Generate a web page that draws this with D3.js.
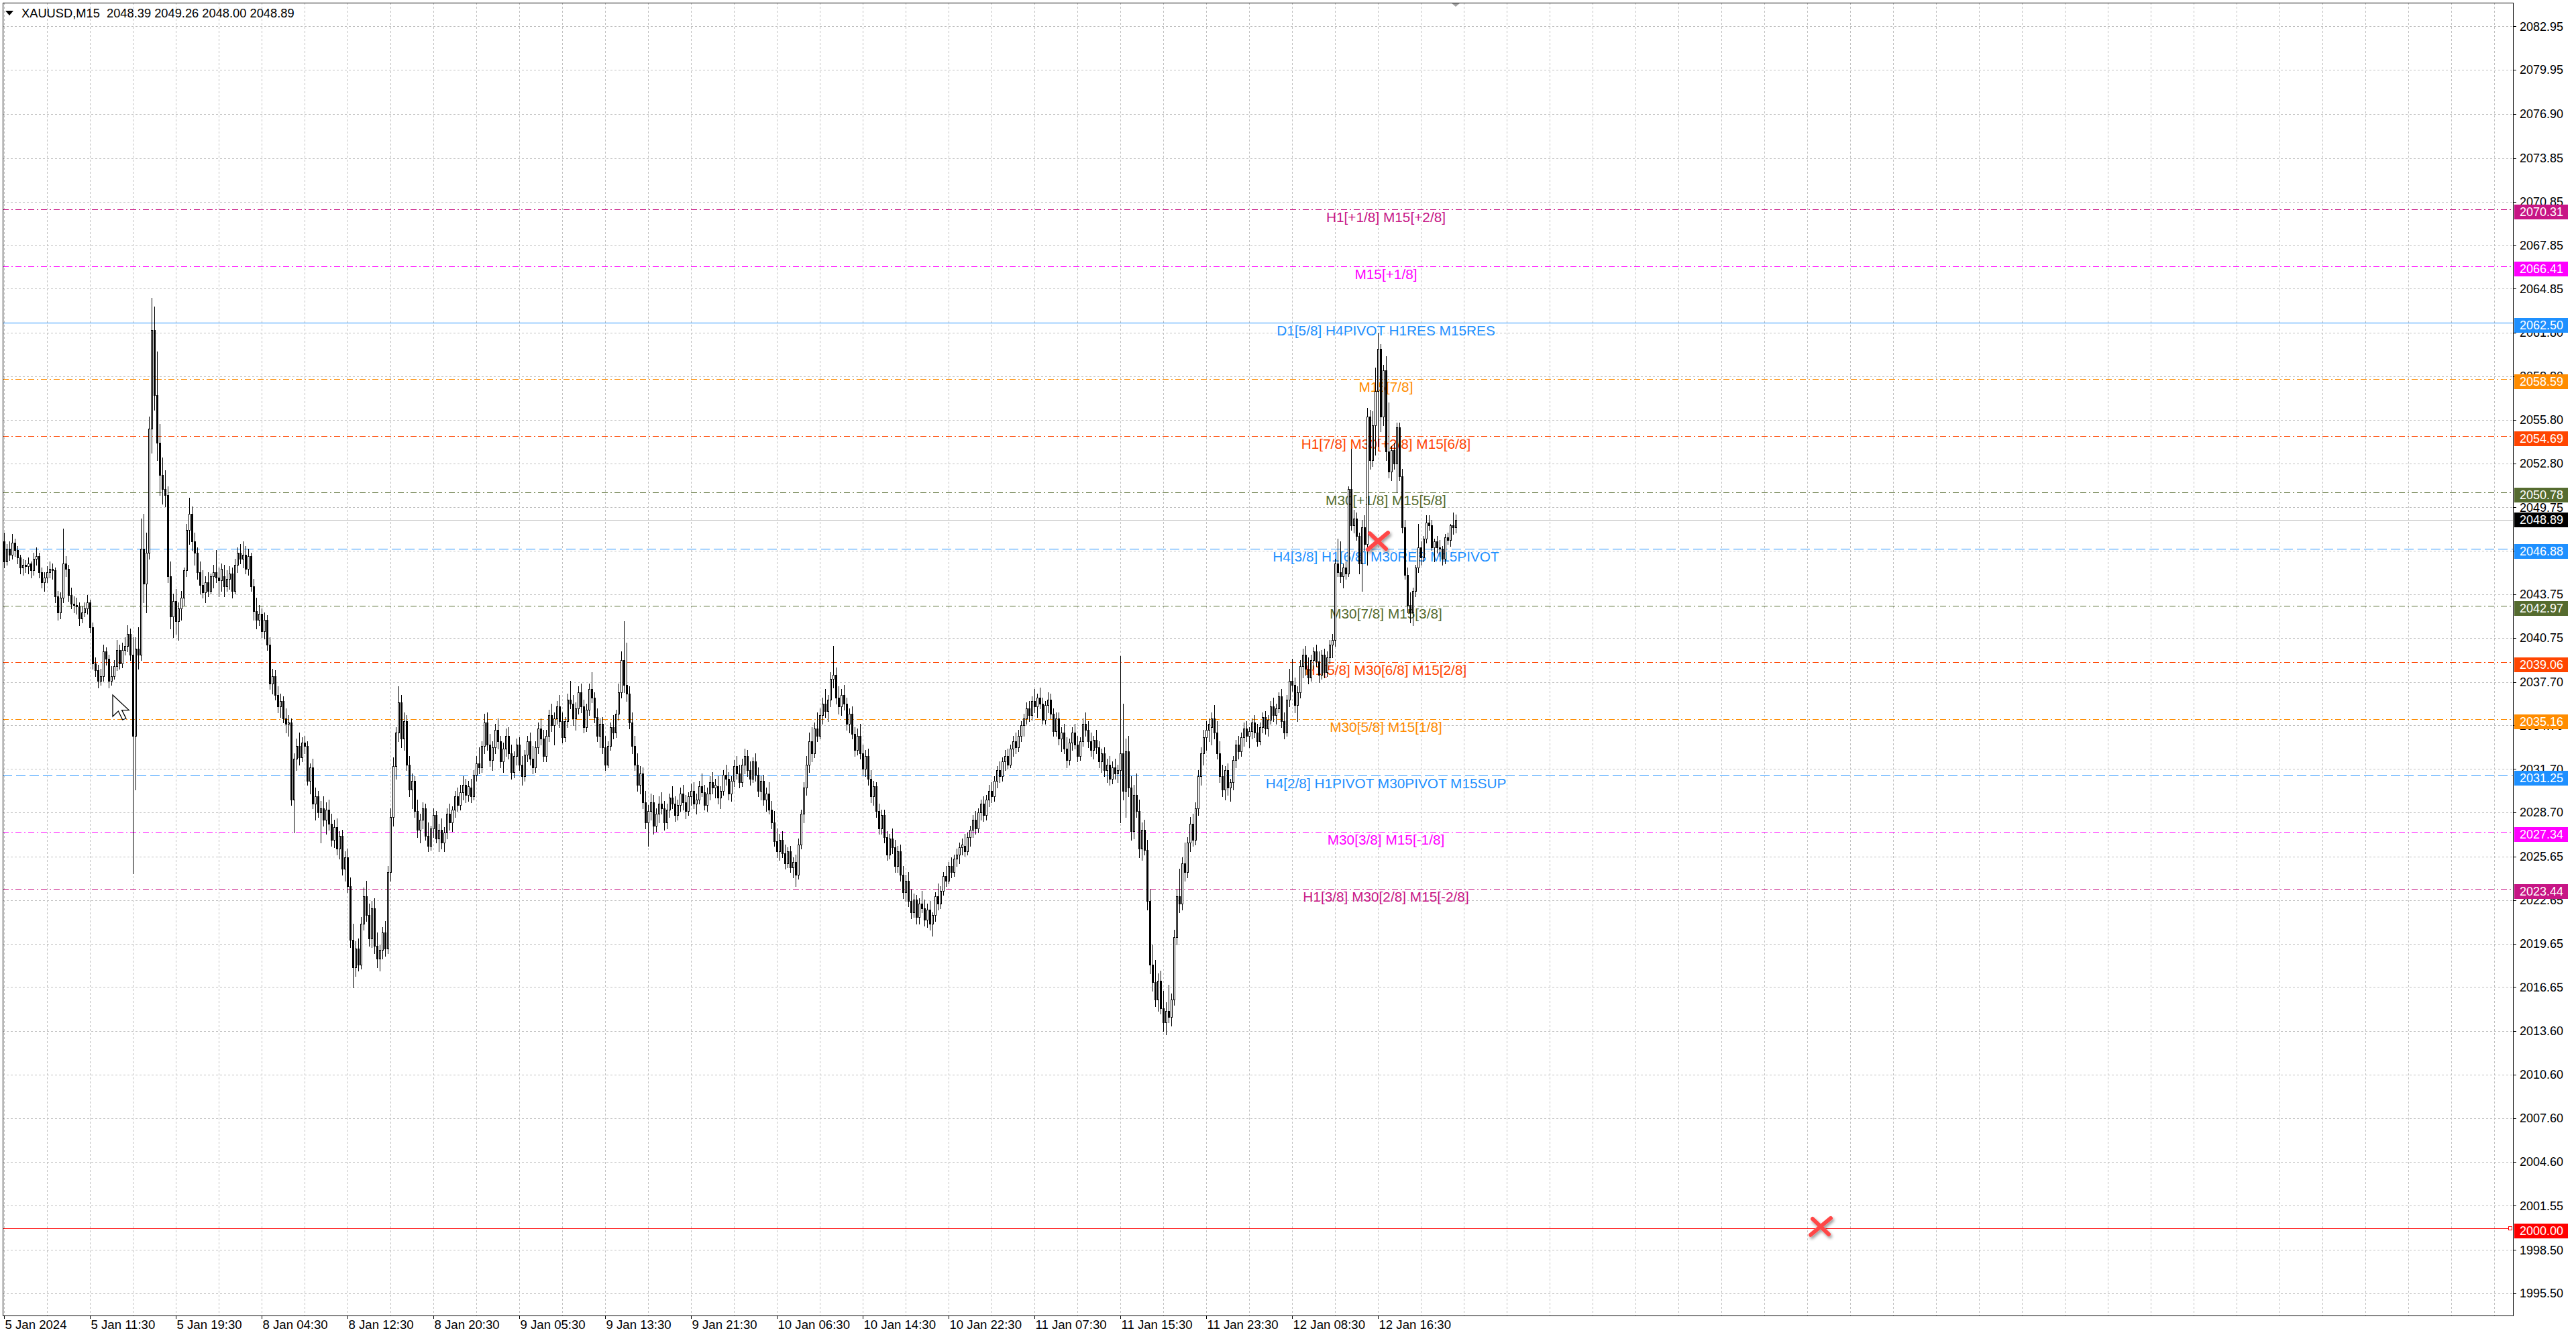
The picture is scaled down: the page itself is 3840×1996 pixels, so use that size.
<!DOCTYPE html>
<html>
<head>
<meta charset="utf-8">
<title>XAUUSD,M15</title>
<script src="https://cdn.jsdelivr.net/npm/d3@7/dist/d3.min.js"></script>
<style>
html,body{margin:0;padding:0;background:#ffffff;overflow:hidden;}
svg{display:block;}
</style>
</head>
<body>
<svg id="chart" width="3840" height="1996"></svg>
<script>
// ================= DATA =================
const symbolTitle = "XAUUSD,M15";
const lastBarOHLC = [2048.39, 2049.26, 2048.00, 2048.89];

const opens = [
2047.4,2046.0,2046.9,2046.5,2047.3,2046.8,2046.3,2045.6,2045.8,2045.7,
2045.9,2045.4,2046.2,2046.4,2045.3,2044.6,2044.9,2045.3,2045.5,2045.4,
2043.6,2042.5,2043.5,2045.9,2045.5,2043.7,2043.1,2043.0,2042.9,2042.1,
2042.5,2042.8,2043.2,2041.5,2039.0,2038.5,2037.8,2038.1,2039.8,2039.3,
2037.8,2038.1,2038.8,2039.9,2039.0,2039.9,2040.2,2041.0,2039.6,2034.0,
2040.0,2039.6,2046.9,2044.5,2046.6,2055.2,2062.0,2057.5,2054.2,2052.0,
2051.0,2050.6,2045.0,2042.2,2043.3,2041.9,2042.8,2043.5,2045.4,2048.2,
2049.3,2047.4,2046.6,2045.3,2044.4,2043.9,2044.6,2044.0,2045.0,2045.3,
2044.9,2044.7,2045.0,2044.3,2044.8,2045.2,2044.0,2045.8,2046.6,2046.2,
2046.5,2045.5,2046.4,2044.3,2042.6,2042.0,2042.4,2041.2,2042.0,2040.3,
2037.6,2038.1,2036.8,2036.0,2036.4,2035.2,2034.8,2034.9,2029.6,2032.4,
2033.3,2032.5,2033.5,2033.3,2030.9,2031.8,2029.3,2029.8,2028.7,2029.0,
2028.2,2028.9,2027.9,2026.8,2027.7,2026.2,2027.1,2024.8,2025.6,2023.6,
2019.9,2018.0,2019.3,2018.2,2021.0,2022.9,2021.6,2020.0,2022.1,2019.5,
2018.6,2019.2,2020.4,2019.3,2024.6,2028.4,2031.9,2034.2,2036.3,2033.8,
2035.0,2032.0,2030.3,2030.9,2028.8,2027.5,2028.2,2029.0,2027.1,2026.4,
2027.6,2028.5,2026.9,2027.5,2026.6,2027.3,2028.6,2028.0,2028.9,2029.8,
2029.2,2030.1,2030.6,2029.9,2030.4,2029.8,2031.3,2032.1,2031.8,2033.3,
2034.9,2033.4,2032.3,2033.2,2034.4,2033.6,2032.2,2033.1,2034.0,2032.8,
2031.5,2032.6,2033.4,2032.0,2031.2,2032.7,2033.6,2032.4,2031.8,2033.2,
2034.5,2033.8,2032.6,2034.0,2035.4,2034.7,2035.2,2036.0,2035.0,2033.9,
2035.0,2036.5,2036.2,2035.2,2035.9,2037.0,2036.0,2034.6,2035.8,2037.2,
2036.6,2035.3,2034.0,2034.8,2033.2,2032.0,2033.3,2034.6,2034.2,2035.5,
2037.0,2039.2,2037.5,2036.9,2034.9,2033.3,2032.0,2030.6,2031.4,2029.4,
2028.0,2028.8,2029.4,2027.8,2028.6,2029.3,2029.0,2028.0,2028.9,2029.7,
2029.3,2028.5,2029.2,2030.0,2029.4,2028.8,2029.8,2030.2,2029.3,2029.6,
2030.5,2030.1,2029.2,2030.0,2030.8,2030.4,2030.5,2029.7,2030.2,2031.3,
2031.0,2030.0,2030.9,2031.9,2031.4,2030.8,2032.0,2032.6,2031.6,2031.0,
2032.2,2031.3,2030.2,2030.9,2029.6,2030.0,2028.9,2028.0,2026.7,2026.0,
2026.8,2025.9,2025.2,2026.0,2024.9,2025.3,2024.4,2026.5,2028.6,2030.4,
2032.0,2033.6,2032.8,2034.5,2034.0,2035.4,2036.2,2035.7,2036.5,2037.9,
2038.2,2036.6,2036.0,2036.8,2036.2,2034.8,2035.5,2034.1,2033.0,2034.0,
2032.8,2031.7,2032.6,2031.0,2029.8,2030.5,2028.8,2027.6,2028.5,2027.0,
2025.8,2026.9,2026.3,2025.0,2026.0,2024.4,2023.2,2024.0,2022.6,2021.8,
2022.7,2021.5,2022.4,2022.1,2021.3,2022.0,2021.0,2021.6,2022.9,2022.4,
2023.3,2024.3,2024.0,2025.0,2024.6,2025.5,2025.8,2026.3,2026.4,2026.0,
2027.0,2027.5,2028.2,2027.6,2028.7,2029.3,2028.5,2029.6,2030.2,2029.8,
2030.9,2031.6,2031.2,2032.2,2032.6,2032.0,2033.1,2033.6,2033.2,2034.0,
2034.7,2035.2,2035.9,2035.4,2036.4,2036.0,2036.6,2036.2,2035.1,2036.1,
2036.5,2035.5,2034.3,2035.2,2033.8,2034.2,2033.1,2032.3,2033.5,2034.2,
2033.4,2032.6,2033.6,2034.8,2034.4,2033.6,2033.0,2033.7,2033.2,2032.2,
2032.8,2031.6,2032.0,2031.0,2031.8,2031.4,2031.6,2032.8,2030.2,2032.9,
2030.4,2027.4,2029.9,2028.8,2026.2,2027.5,2026.1,2022.6,2018.2,2017.0,
2015.8,2017.1,2015.2,2014.2,2015.0,2014.6,2015.8,2020.1,2022.9,2022.4,
2025.2,2024.6,2026.6,2027.9,2026.8,2029.0,2031.2,2032.8,2033.9,2034.4,
2034.6,2035.2,2034.2,2032.8,2031.2,2030.3,2031.6,2030.4,2030.8,2032.3,
2033.4,2032.9,2033.9,2034.5,2034.0,2034.3,2034.9,2034.2,2033.6,2034.6,
2035.3,2034.5,2035.1,2036.0,2035.4,2035.9,2036.7,2035.0,2034.2,2036.5,
2037.8,2037.5,2036.1,2037.0,2038.8,2039.6,2038.6,2038.0,2039.2,2039.8,
2039.1,2038.2,2039.6,2038.4,2039.4,2040.3,2040.6,2045.9,2045.3,2045.0,
2045.6,2045.2,2051.0,2048.5,2049.0,2047.8,2045.9,2048.4,2047.2,2056.0,
2053.0,2055.4,2057.8,2060.7,2056.0,2059.2,2053.6,2052.2,2053.7,2052.8,
2055.3,2051.9,2048.4,2045.1,2043.0,2042.5,2044.0,2045.6,2047.0,2046.3,
2047.6,2048.7,2048.5,2047.0,2047.4,2047.0,2046.9,2046.2,2047.7,2047.5,
2048.5,2048.39
];
const highs = [
2048.0,2047.2,2047.4,2047.9,2047.6,2047.1,2046.5,2046.2,2046.1,2046.3,
2046.0,2046.6,2047.0,2046.6,2045.6,2045.3,2045.7,2046.0,2045.9,2045.6,
2044.0,2043.9,2048.3,2046.4,2045.8,2044.2,2043.6,2043.5,2043.2,2042.9,
2043.2,2043.7,2043.4,2041.8,2039.4,2038.9,2038.6,2040.3,2040.1,2039.6,
2038.8,2039.2,2040.6,2040.3,2040.4,2040.8,2041.6,2041.4,2040.8,2040.8,
2041.5,2049.0,2049.3,2048.0,2056.0,2064.2,2063.6,2060.5,2055.5,2053.2,
2052.3,2051.2,2046.0,2043.8,2044.1,2043.2,2044.0,2045.6,2048.6,2050.4,
2049.8,2048.0,2047.0,2046.0,2045.4,2045.0,2045.3,2045.2,2045.8,2046.8,
2045.6,2045.9,2045.8,2045.4,2045.7,2045.6,2046.2,2047.0,2047.2,2047.4,
2047.1,2046.9,2046.6,2044.8,2043.5,2043.0,2042.8,2042.5,2042.3,2040.8,
2038.6,2038.5,2037.4,2036.9,2036.7,2035.9,2035.4,2035.2,2032.8,2033.8,
2034.2,2033.9,2034.0,2033.6,2032.1,2032.4,2030.4,2030.2,2029.5,2029.8,
2029.4,2029.6,2028.6,2028.2,2028.3,2027.4,2027.5,2026.0,2026.2,2024.2,
2021.0,2019.8,2020.0,2021.5,2023.5,2024.0,2022.4,2022.6,2022.8,2020.4,
2019.6,2020.8,2021.2,2025.0,2029.0,2032.5,2034.6,2037.4,2036.8,2035.6,
2035.4,2032.6,2031.4,2031.2,2029.6,2028.6,2029.4,2029.3,2028.0,2027.8,
2029.0,2028.8,2027.9,2028.3,2027.7,2029.0,2029.3,2029.1,2030.2,2030.4,
2030.6,2031.2,2031.0,2030.9,2031.0,2031.6,2032.6,2033.2,2033.6,2035.5,
2035.6,2034.1,2033.6,2034.8,2035.2,2034.0,2033.5,2034.5,2034.6,2033.4,
2032.9,2033.8,2033.9,2032.6,2033.0,2034.0,2034.2,2033.3,2033.6,2034.9,
2035.2,2034.4,2034.4,2035.8,2036.2,2035.6,2036.4,2036.8,2035.6,2035.3,
2036.9,2037.8,2036.8,2036.3,2037.4,2037.6,2036.5,2036.2,2037.6,2038.4,
2037.0,2035.9,2035.2,2035.3,2034.0,2033.6,2034.9,2035.4,2035.8,2037.6,
2039.8,2041.9,2040.4,2037.4,2035.6,2034.0,2032.8,2031.9,2031.8,2030.2,
2029.2,2030.0,2029.9,2029.0,2029.8,2030.1,2029.5,2029.3,2030.0,2030.5,
2029.8,2029.6,2030.4,2030.6,2029.9,2030.1,2030.7,2030.8,2030.0,2030.9,
2031.4,2030.6,2030.4,2031.2,2031.5,2031.0,2031.2,2030.5,2031.6,2032.0,
2031.5,2031.2,2032.3,2032.6,2032.0,2032.4,2033.1,2033.0,2032.2,2032.5,
2032.8,2031.8,2031.2,2031.3,2030.4,2030.8,2029.5,2028.8,2027.6,2027.2,
2027.4,2026.5,2026.3,2026.4,2025.6,2025.8,2026.9,2028.9,2030.8,2032.6,
2034.2,2034.6,2034.9,2035.6,2035.9,2036.6,2037.2,2036.8,2038.4,2040.2,
2038.7,2037.4,2037.2,2037.5,2036.6,2035.9,2036.0,2034.6,2034.5,2034.8,
2033.4,2033.0,2033.1,2031.6,2030.9,2030.8,2029.3,2028.9,2028.9,2027.4,
2027.2,2027.6,2026.8,2026.4,2026.5,2025.0,2024.4,2024.6,2023.4,2023.1,
2023.0,2022.8,2023.3,2022.7,2022.4,2022.6,2021.8,2023.2,2023.8,2023.6,
2024.6,2025.0,2025.3,2025.6,2025.8,2026.2,2026.6,2026.9,2027.2,2027.3,
2027.8,2028.5,2028.8,2029.0,2029.6,2029.8,2029.9,2030.6,2030.8,2031.2,
2031.9,2032.2,2032.5,2033.0,2033.1,2033.4,2034.0,2034.2,2034.4,2035.0,
2035.5,2036.3,2036.4,2036.7,2037.2,2036.9,2037.3,2036.6,2036.4,2037.0,
2036.9,2035.9,2035.6,2035.6,2034.6,2034.8,2033.9,2033.8,2034.6,2034.8,
2034.0,2033.9,2035.2,2035.6,2035.0,2034.2,2034.0,2034.4,2033.6,2033.1,
2033.2,2032.4,2032.6,2032.2,2032.4,2032.0,2039.5,2036.2,2033.8,2034.0,
2031.2,2030.6,2031.4,2029.6,2028.0,2028.2,2026.8,2023.4,2019.6,2018.5,
2017.6,2017.8,2016.4,2015.6,2016.8,2016.2,2020.6,2023.4,2024.8,2025.6,
2026.6,2027.0,2028.4,2028.6,2029.4,2031.6,2033.2,2034.4,2035.0,2035.2,
2035.6,2036.1,2035.0,2033.6,2032.0,2031.9,2032.1,2031.0,2032.6,2033.7,
2034.0,2034.2,2034.9,2035.0,2034.6,2035.2,2035.4,2034.8,2034.9,2035.6,
2035.7,2035.4,2036.4,2036.6,2036.2,2037.0,2037.2,2035.6,2036.8,2038.6,
2039.3,2038.0,2037.4,2039.2,2040.0,2040.2,2039.4,2039.6,2040.1,2040.3,
2039.8,2039.9,2040.0,2039.8,2040.6,2041.0,2046.2,2047.6,2047.4,2045.9,
2046.0,2051.2,2053.8,2049.6,2049.4,2048.0,2048.9,2049.2,2056.6,2056.5,
2056.4,2059.4,2061.8,2061.0,2059.6,2060.2,2057.0,2054.0,2054.2,2055.6,
2055.6,2052.4,2048.9,2045.6,2043.9,2044.2,2045.8,2048.6,2047.4,2047.8,
2049.2,2049.2,2048.9,2047.6,2047.8,2047.5,2047.1,2047.9,2048.0,2048.6,
2049.4,2049.26
];
const lows = [
2045.6,2045.8,2046.1,2046.2,2046.4,2045.9,2045.2,2045.1,2045.3,2045.2,
2044.9,2045.1,2045.8,2044.9,2044.2,2044.0,2044.6,2044.9,2044.8,2043.2,
2042.0,2042.1,2043.2,2045.0,2043.3,2042.8,2042.5,2042.4,2041.6,2041.8,
2042.2,2042.4,2041.1,2038.6,2038.1,2037.3,2037.5,2037.8,2038.9,2037.3,
2037.5,2037.9,2038.5,2038.6,2038.7,2039.6,2039.8,2039.2,2024.5,2030.3,
2038.6,2039.2,2043.2,2042.5,2046.2,2053.5,2056.5,2053.0,2050.6,2050.0,
2049.8,2044.6,2041.4,2040.8,2041.0,2040.6,2042.0,2043.0,2045.0,2047.2,
2046.8,2045.8,2044.8,2043.8,2043.5,2043.2,2043.6,2043.8,2044.2,2044.6,
2043.6,2044.0,2043.6,2044.0,2044.1,2043.5,2043.8,2045.3,2045.9,2045.6,
2045.2,2045.1,2044.0,2042.0,2041.4,2041.6,2040.8,2040.7,2039.9,2037.2,
2036.9,2036.5,2035.6,2035.3,2034.9,2034.2,2034.0,2029.2,2027.3,2031.6,
2032.0,2032.2,2032.8,2030.6,2030.0,2029.0,2028.2,2028.4,2026.6,2027.8,
2027.2,2027.5,2026.4,2026.3,2025.8,2025.5,2024.4,2024.0,2023.2,2019.4,
2016.6,2017.4,2017.8,2017.9,2020.6,2021.2,2019.5,2019.4,2019.0,2018.0,
2017.8,2018.6,2018.8,2019.0,2024.0,2027.8,2031.0,2033.6,2033.2,2033.0,
2031.6,2029.8,2029.0,2028.4,2027.0,2026.6,2027.6,2026.8,2026.0,2026.1,
2027.0,2026.6,2026.0,2026.2,2026.0,2026.9,2027.5,2027.4,2028.4,2028.8,
2028.9,2029.6,2029.4,2029.5,2029.4,2029.6,2030.9,2031.4,2031.5,2032.8,
2033.0,2031.9,2031.6,2032.8,2033.1,2031.8,2031.5,2032.6,2032.4,2031.0,
2031.1,2032.0,2031.6,2030.6,2030.9,2032.2,2032.0,2031.4,2031.5,2032.8,
2033.4,2032.2,2032.2,2033.6,2034.3,2033.4,2034.8,2034.6,2033.5,2033.6,
2034.6,2035.9,2034.7,2034.4,2035.5,2035.6,2034.2,2034.3,2035.4,2036.3,
2034.9,2033.6,2033.2,2032.8,2031.6,2031.8,2033.0,2033.8,2033.9,2035.1,
2036.6,2037.0,2036.4,2034.5,2032.8,2031.6,2030.2,2030.0,2029.0,2027.6,
2026.4,2028.2,2027.2,2027.4,2028.0,2028.6,2027.5,2027.6,2028.4,2029.0,
2028.1,2028.2,2028.8,2028.9,2028.3,2028.5,2029.2,2029.0,2028.6,2029.3,
2029.8,2028.9,2028.8,2029.6,2030.0,2029.7,2029.3,2029.0,2029.9,2030.6,
2029.6,2029.5,2030.5,2031.0,2030.4,2030.5,2031.4,2031.2,2030.6,2030.8,
2030.9,2029.8,2029.6,2029.2,2028.8,2028.6,2027.6,2026.4,2025.6,2025.4,
2025.6,2024.8,2024.9,2024.6,2024.2,2023.6,2024.1,2026.2,2028.0,2029.9,
2031.5,2032.2,2032.5,2033.6,2033.8,2034.8,2035.3,2035.0,2036.0,2037.3,
2036.2,2035.5,2035.4,2035.8,2034.4,2034.2,2033.8,2032.6,2032.7,2032.4,
2031.3,2031.2,2030.6,2029.4,2029.2,2028.4,2027.2,2027.2,2026.6,2025.4,
2025.5,2025.9,2024.6,2024.6,2024.0,2022.8,2022.6,2022.2,2021.4,2021.5,
2021.0,2021.0,2021.8,2020.9,2020.8,2020.6,2020.2,2021.2,2022.0,2022.1,
2023.0,2023.6,2023.8,2024.2,2024.3,2025.0,2025.2,2025.8,2025.7,2025.8,
2026.4,2027.0,2027.2,2027.3,2028.2,2028.1,2028.2,2029.1,2029.4,2029.5,
2030.4,2030.8,2030.9,2031.6,2031.7,2031.8,2032.6,2032.8,2032.9,2033.6,
2034.0,2034.8,2035.0,2035.1,2035.6,2035.3,2035.9,2034.8,2034.8,2035.6,
2035.2,2034.0,2034.0,2033.4,2032.9,2032.8,2031.8,2032.0,2033.0,2033.1,
2032.2,2032.3,2033.3,2034.0,2033.2,2032.6,2032.4,2032.8,2031.8,2031.5,
2031.2,2030.8,2030.6,2030.7,2031.0,2030.8,2028.0,2029.6,2028.4,2029.8,
2026.8,2026.9,2028.4,2025.6,2025.4,2025.8,2022.0,2017.6,2016.4,2015.3,
2015.0,2014.8,2013.6,2013.4,2014.2,2014.0,2015.4,2019.6,2021.8,2022.0,
2024.0,2024.2,2026.0,2026.4,2026.5,2028.5,2030.6,2032.0,2033.0,2033.6,
2033.4,2033.8,2032.4,2030.8,2029.8,2029.6,2029.9,2029.5,2030.3,2031.8,
2032.4,2032.6,2033.3,2033.6,2033.2,2033.8,2033.9,2033.3,2033.4,2034.2,
2034.1,2034.0,2034.8,2035.0,2034.8,2035.6,2034.6,2033.8,2034.0,2036.0,
2037.1,2035.6,2035.0,2036.6,2038.0,2038.2,2037.6,2037.8,2038.6,2038.8,
2037.7,2037.9,2038.0,2038.1,2039.0,2039.4,2040.2,2045.0,2044.6,2044.2,
2044.8,2045.0,2048.2,2048.0,2047.5,2045.2,2044.0,2046.8,2045.8,2052.4,
2052.6,2053.4,2054.0,2055.0,2055.4,2053.0,2051.8,2051.6,2052.4,2050.8,
2051.6,2048.0,2044.8,2042.5,2041.8,2041.6,2043.6,2045.3,2045.8,2046.0,
2047.3,2048.2,2046.8,2046.0,2046.6,2046.4,2045.8,2045.9,2047.2,2047.1,
2047.9,2048.00
];
const closes = [
2046.0,2046.9,2046.5,2047.3,2046.8,2046.3,2045.6,2045.8,2045.7,2045.9,
2045.4,2046.2,2046.4,2045.3,2044.6,2044.9,2045.3,2045.5,2045.4,2043.6,
2042.5,2043.5,2045.9,2045.5,2043.7,2043.1,2043.0,2042.9,2042.1,2042.5,
2042.8,2043.2,2041.5,2039.0,2038.5,2037.8,2038.1,2039.8,2039.3,2037.8,
2038.1,2038.8,2039.9,2039.0,2039.9,2040.2,2041.0,2039.6,2034.0,2040.0,
2039.6,2046.9,2044.5,2046.6,2055.2,2062.0,2057.5,2054.2,2052.0,2051.0,
2050.6,2045.0,2042.2,2043.3,2041.9,2042.8,2043.5,2045.4,2048.2,2049.3,
2047.4,2046.6,2045.3,2044.4,2043.9,2044.6,2044.0,2045.0,2045.3,2044.9,
2044.7,2045.5,2044.3,2044.8,2045.2,2044.0,2045.8,2046.6,2046.2,2046.5,
2045.5,2046.4,2044.3,2042.6,2042.0,2042.4,2041.2,2042.0,2040.3,2037.6,
2038.1,2036.8,2036.0,2036.4,2035.2,2034.8,2034.9,2029.6,2032.4,2033.3,
2032.5,2033.5,2033.3,2030.9,2031.8,2029.3,2029.8,2028.7,2029.0,2028.2,
2028.9,2027.9,2026.8,2027.7,2026.2,2027.1,2024.8,2025.6,2023.6,2019.9,
2018.0,2019.3,2018.2,2021.0,2022.9,2021.6,2020.0,2022.1,2019.5,2018.6,
2019.2,2020.4,2019.3,2024.6,2028.4,2031.9,2034.2,2036.3,2033.8,2035.0,
2032.0,2030.3,2030.9,2028.8,2027.5,2028.2,2029.0,2027.1,2026.4,2027.6,
2028.5,2026.9,2027.5,2026.6,2027.3,2028.6,2028.0,2028.9,2029.8,2029.2,
2030.1,2030.6,2029.9,2030.5,2029.8,2031.3,2032.1,2031.8,2033.3,2034.9,
2033.4,2032.3,2033.2,2034.4,2033.6,2032.2,2033.1,2034.0,2032.8,2031.5,
2032.6,2033.4,2032.0,2031.2,2032.7,2033.6,2032.4,2031.8,2033.2,2034.5,
2033.8,2032.6,2034.0,2035.4,2034.7,2035.2,2036.0,2035.0,2033.9,2035.0,
2036.5,2036.2,2035.2,2035.9,2037.0,2036.0,2034.6,2035.8,2037.2,2036.6,
2035.3,2034.0,2034.8,2033.2,2032.0,2033.3,2034.6,2034.2,2035.5,2037.0,
2039.2,2037.5,2036.9,2034.9,2033.3,2032.0,2030.6,2031.4,2029.4,2028.0,
2028.8,2029.4,2027.8,2028.6,2029.3,2029.0,2028.0,2028.9,2029.7,2029.3,
2028.5,2029.2,2030.0,2029.4,2028.8,2029.8,2030.2,2029.3,2029.6,2030.5,
2030.1,2029.2,2030.0,2030.8,2030.4,2030.6,2029.7,2030.2,2031.3,2031.0,
2030.0,2030.9,2031.9,2031.4,2030.8,2032.0,2032.6,2031.6,2031.0,2032.2,
2031.3,2030.2,2030.9,2029.6,2030.0,2028.9,2028.0,2026.7,2026.0,2026.8,
2025.9,2025.2,2026.0,2024.9,2025.3,2024.4,2026.5,2028.6,2030.4,2032.0,
2033.6,2032.8,2034.5,2034.0,2035.4,2036.2,2035.7,2036.5,2037.9,2038.2,
2036.6,2036.0,2036.8,2036.2,2034.8,2035.5,2034.1,2033.0,2034.0,2032.8,
2031.7,2032.6,2031.0,2029.8,2030.5,2028.8,2027.6,2028.5,2027.0,2025.8,
2026.9,2026.3,2025.0,2026.0,2024.4,2023.2,2024.0,2022.6,2021.8,2022.7,
2021.5,2022.4,2022.1,2021.3,2022.0,2021.0,2021.6,2022.9,2022.4,2023.3,
2024.3,2024.0,2025.0,2024.6,2025.5,2025.8,2026.3,2026.5,2026.0,2027.0,
2027.5,2028.2,2027.6,2028.7,2029.3,2028.5,2029.6,2030.2,2029.8,2030.9,
2031.6,2031.2,2032.2,2032.6,2032.0,2033.1,2033.6,2033.2,2034.0,2034.7,
2035.2,2035.9,2035.4,2036.4,2036.0,2036.6,2036.2,2035.1,2036.1,2036.5,
2035.5,2034.3,2035.2,2033.8,2034.2,2033.1,2032.3,2033.5,2034.2,2033.4,
2032.6,2033.6,2034.8,2034.4,2033.6,2033.0,2033.7,2033.2,2032.2,2032.8,
2031.6,2032.0,2031.0,2031.8,2031.4,2031.6,2032.8,2030.2,2032.9,2030.4,
2027.4,2029.9,2028.8,2026.2,2027.5,2026.1,2022.6,2018.2,2017.0,2015.8,
2017.1,2015.2,2014.2,2015.0,2014.6,2015.8,2020.1,2022.9,2022.4,2025.2,
2024.6,2026.6,2027.9,2026.8,2029.0,2031.2,2032.8,2033.9,2034.4,2034.8,
2035.2,2034.2,2032.8,2031.2,2030.3,2031.6,2030.4,2030.8,2032.3,2033.4,
2032.9,2033.9,2034.5,2034.0,2034.3,2034.9,2034.2,2033.6,2034.6,2035.3,
2034.5,2035.1,2036.0,2035.4,2035.9,2036.7,2035.0,2034.2,2036.5,2037.8,
2037.5,2036.1,2037.0,2038.8,2039.6,2038.6,2038.0,2039.2,2039.8,2039.1,
2038.2,2039.6,2038.4,2039.4,2040.3,2040.6,2045.9,2045.3,2045.0,2045.6,
2045.2,2051.0,2048.5,2049.0,2047.8,2045.9,2048.4,2047.2,2056.0,2053.0,
2055.4,2057.8,2060.7,2056.0,2059.2,2053.6,2052.2,2053.7,2052.8,2055.3,
2051.9,2048.4,2045.1,2043.0,2042.5,2044.0,2045.6,2047.0,2046.3,2047.6,
2048.7,2048.5,2047.0,2047.4,2047.0,2046.9,2046.2,2047.7,2047.5,2048.5,
2048.4,2048.89
];

const timeTickBars = [0,32,64,96,128,160,192,224,256,288,320,352,384,416,448,480,512];
const timeTickLabels = ["5 Jan 2024","5 Jan 11:30","5 Jan 19:30","8 Jan 04:30","8 Jan 12:30","8 Jan 20:30",
  "9 Jan 05:30","9 Jan 13:30","9 Jan 21:30","10 Jan 06:30","10 Jan 14:30","10 Jan 22:30",
  "11 Jan 07:30","11 Jan 15:30","11 Jan 23:30","12 Jan 08:30","12 Jan 16:30"];
const priceTicks = [2082.95,2079.95,2076.90,2073.85,2070.85,2067.85,2064.85,2061.80,2058.80,2055.80,
  2052.80,2049.75,2046.75,2043.75,2040.75,2037.70,2034.70,2031.70,2028.70,2025.65,2022.65,2019.65,
  2016.65,2013.60,2010.60,2007.60,2004.60,2001.55,1998.50,1995.50];

const levelPrices = [2070.31,2066.41,2062.50,2058.59,2054.69,2050.78,2046.88,2042.97,2039.06,2035.16,2031.25,2027.34,2023.44];
const levelNames = ["H1[+1/8] M15[+2/8]","M15[+1/8]","D1[5/8] H4PIVOT H1RES M15RES","M15[7/8]",
  "H1[7/8] M30[+2/8] M15[6/8]","M30[+1/8] M15[5/8]","H4[3/8] H1[6/8] M30RES M15PIVOT","M30[7/8] M15[3/8]",
  "H1[5/8] M30[6/8] M15[2/8]","M30[5/8] M15[1/8]","H4[2/8] H1PIVOT M30PIVOT M15SUP","M30[3/8] M15[-1/8]",
  "H1[3/8] M30[2/8] M15[-2/8]"];
const levelColors = ["#C71585","#FF00FF","#1E90FF","#FF8C00","#FF4500","#556B2F","#1E90FF","#556B2F",
  "#FF4500","#FF8C00","#1E90FF","#FF00FF","#C71585"];
const levelStyles = ["dashdot","dashdot","solid","dashdot","dashdot","dashdot","dash","dashdot",
  "dashdot","dashdot","dash","dashdot","dashdot"];
const bidPrice = 2048.89;
const alertPrice = 2000.00;
const markerBars = [512, 677];
const markerPrices = [2047.4, 2000.1];

// ================= LAYOUT =================
const W = 3840, H = 1996;
const P = {l:4, t:4, r:3746, b:1961};
const SLOTS = 935;
const FONT = "'Liberation Sans', Arial, sans-serif";
const dashMap = {solid:null, dash:"14,6", dashdot:"9,4,2,4"};
const labelBar = 515;

const svg = d3.select("#chart");
const x = d3.scaleLinear().domain([0, SLOTS]).range([6, 6 + 4*SLOTS]);
const y = d3.scaleLinear().domain([1993.98, 2084.584]).range([P.b, P.t]);
const py = p => Math.round(y(p));

svg.append("rect").attr("width", W).attr("height", H).attr("fill", "#ffffff");

const defs = svg.append("defs");
defs.append("clipPath").attr("id","pc").append("rect")
  .attr("x",P.l).attr("y",P.t).attr("width",P.r-P.l).attr("height",P.b-P.t);
const f = defs.append("filter").attr("id","shadow").attr("x","-60%").attr("y","-60%").attr("width","220%").attr("height","220%");
f.append("feDropShadow").attr("dx",2).attr("dy",3).attr("stdDeviation",2).attr("flood-color","#000").attr("flood-opacity",0.4);

const plot = svg.append("g").attr("clip-path","url(#pc)");

// grid
const grid = plot.append("g").attr("shape-rendering","crispEdges").attr("stroke","#c0c0c0").attr("stroke-dasharray","3,3");
grid.selectAll("line.gv").data(d3.range(0, SLOTS, 16)).join("line").attr("class","gv")
  .attr("x1", d=>Math.round(x(d))+0.5).attr("x2", d=>Math.round(x(d))+0.5)
  .attr("y1", P.t).attr("y2", P.b);
grid.selectAll("line.gh").data(priceTicks).join("line").attr("class","gh")
  .attr("x1", P.l).attr("x2", P.r)
  .attr("y1", d=>py(d)+0.5).attr("y2", d=>py(d)+0.5);

// level lines
const lv = plot.append("g").attr("shape-rendering","crispEdges");
lv.selectAll("line").data(levelPrices).join("line")
  .attr("x1", P.l).attr("x2", P.r)
  .attr("y1", d=>py(d)+0.5).attr("y2", d=>py(d)+0.5)
  .attr("stroke", (d,i)=>levelColors[i])
  .attr("stroke-dasharray", (d,i)=>dashMap[levelStyles[i]]);

// bid line
lv.append("line").attr("x1",P.l).attr("x2",P.r).attr("y1",py(bidPrice)+0.5).attr("y2",py(bidPrice)+0.5)
  .attr("stroke","#c0c0c0");
// alert line
lv.append("line").attr("x1",P.l).attr("x2",P.r-4).attr("y1",py(alertPrice)+0.5).attr("y2",py(alertPrice)+0.5)
  .attr("stroke","#ff0000");
lv.append("rect").attr("x",P.r-6.5).attr("y",py(alertPrice)-2.5).attr("width",5).attr("height",5)
  .attr("fill","#ffffff").attr("stroke","#ff0000");

// level labels
plot.append("g").selectAll("text").data(levelPrices).join("text")
  .attr("x", x(labelBar)).attr("y", d=>py(d)+18.5)
  .attr("text-anchor","middle").attr("font-family",FONT).attr("font-size","20.8px")
  .attr("fill",(d,i)=>levelColors[i]).text((d,i)=>levelNames[i]);

// candles
const idx = d3.range(closes.length);
const cg = plot.append("g").attr("shape-rendering","crispEdges");
cg.selectAll("rect.wick").data(idx).join("rect").attr("class","wick")
  .attr("x", i=>Math.round(x(i))).attr("width",1)
  .attr("y", i=>py(highs[i]))
  .attr("height", i=>Math.max(1, py(lows[i]) - py(highs[i]) + 1))
  .attr("fill","#000");
cg.selectAll("rect.body").data(idx).join("rect").attr("class","body")
  .attr("x", i=>Math.round(x(i))-1).attr("width",3)
  .attr("y", i=>py(Math.max(opens[i],closes[i])))
  .attr("height", i=>Math.max(1, py(Math.min(opens[i],closes[i])) - py(Math.max(opens[i],closes[i])) + 1))
  .attr("fill","#000");
cg.selectAll("rect.hollow").data(idx.filter(i=>closes[i]>opens[i])).join("rect").attr("class","hollow")
  .attr("x", i=>Math.round(x(i))).attr("width",1)
  .attr("y", i=>py(closes[i])+1)
  .attr("height", i=>Math.max(0, py(opens[i]) - py(closes[i]) - 1))
  .attr("fill","#fff");

// red X markers
const mk = plot.append("g").attr("filter","url(#shadow)");
markerBars.forEach((b,k)=>{
  const cx = x(b), cy = y(markerPrices[k]);
  const g = mk.append("g").attr("stroke","#ff4747").attr("stroke-width",6).attr("stroke-linecap","round");
  g.append("line").attr("x1",cx-15).attr("y1",cy+12).attr("x2",cx+15).attr("y2",cy-13);
  g.append("line").attr("x1",cx-12).attr("y1",cy-12).attr("x2",cx+12).attr("y2",cy+11);
});

// mouse cursor
const tip = [168, 1036];
const arrow = [[0,0],[0,16],[4,12],[7,18.5],[9.5,17.5],[6.5,11.3],[11.5,11.3]];
plot.append("polygon")
  .attr("points", arrow.map(p=>[tip[0]+p[0]*2.1, tip[1]+p[1]*2.0].join(",")).join(" "))
  .attr("fill","#ffffff").attr("stroke","#000").attr("stroke-width",1.3).attr("stroke-linejoin","miter");

// chart shift marker
svg.append("polygon").attr("points",[[2163,4],[2177,4],[2170,10]].map(p=>p.join(",")).join(" "))
  .attr("fill","#a0a0a0");

// frame
svg.append("rect").attr("x",P.l+0.5).attr("y",P.t+0.5).attr("width",P.r-P.l).attr("height",P.b-P.t)
  .attr("fill","none").attr("stroke","#000").attr("shape-rendering","crispEdges");

// right price axis
const ya = svg.append("g").attr("transform",`translate(${P.r},0)`)
  .call(d3.axisRight(y).tickValues(priceTicks).tickFormat(d3.format(".2f")).tickSize(5).tickPadding(5));
ya.select(".domain").remove();
ya.attr("font-family",FONT).attr("font-size","18px").attr("shape-rendering","crispEdges");
ya.selectAll("text").attr("fill","#000");

// bottom time axis
const xa = svg.append("g").attr("transform",`translate(0,${P.b})`)
  .call(d3.axisBottom(x).tickValues(timeTickBars).tickFormat((d,i)=>timeTickLabels[i]).tickSize(5).tickPadding(2));
xa.select(".domain").remove();
xa.attr("font-family",FONT).attr("font-size","18.6px").attr("shape-rendering","crispEdges");
xa.selectAll("text").attr("text-anchor","start").attr("dx","1").attr("fill","#000");

// price boxes on the axis
const bx = svg.append("g");
levelPrices.forEach((p,i)=>{
  const yy = py(p);
  bx.append("rect").attr("x",3748).attr("y",yy-7).attr("width",80).attr("height",22).attr("fill",levelColors[i]);
  bx.append("text").attr("x",3756).attr("y",yy+4).attr("dy","0.32em").attr("font-family",FONT)
    .attr("font-size","18px").attr("fill","#fff").text(p.toFixed(2));
});
[[bidPrice,"#000000",-11],[alertPrice,"#ff0000",-7]].forEach(([p,c,off])=>{
  const yy = py(p);
  bx.append("rect").attr("x",3748).attr("y",yy+off).attr("width",80).attr("height",22).attr("fill",c);
  bx.append("text").attr("x",3756).attr("y",yy+off+11).attr("dy","0.32em").attr("font-family",FONT)
    .attr("font-size","18px").attr("fill","#fff").text(p.toFixed(2));
});

// header
svg.append("polygon").attr("points","8,16 20,16 14,23").attr("fill","#000");
svg.append("text").attr("x",32).attr("y",26).attr("font-family",FONT).attr("font-size","18.3px")
  .attr("fill","#000").attr("xml:space","preserve")
  .text(symbolTitle + "  " + lastBarOHLC.map(v=>v.toFixed(2)).join(" "));
</script>
</body>
</html>
